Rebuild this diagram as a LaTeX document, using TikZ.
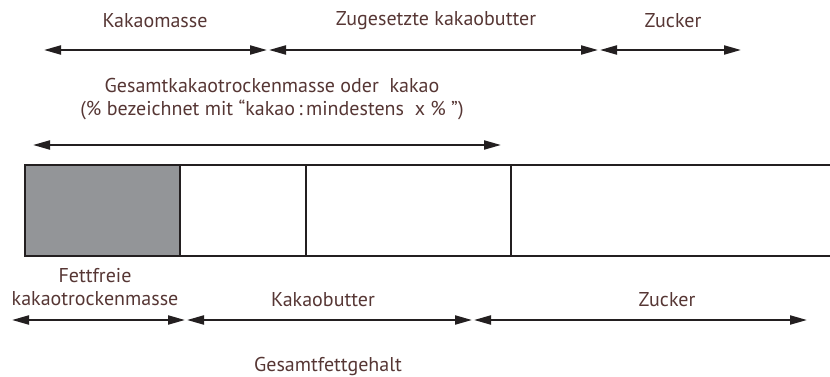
\documentclass[tikz,border=0pt]{standalone}
\usepackage{fontspec}
\setmainfont{PT Sans}
\usetikzlibrary{arrows.meta}
\definecolor{txt}{HTML}{563634}
\definecolor{fillgray}{HTML}{939598}
\definecolor{ln}{HTML}{231F20}
\begin{document}
\begin{tikzpicture}[x=1pt,y=-1pt,
  lbl/.style={text=txt,font=\fontsize{20}{23}\selectfont,inner sep=0pt,align=center},
  dim/.style={draw=ln,line width=2pt,{Triangle[length=17pt,width=9pt]}-{Triangle[length=17pt,width=9pt]},shorten <=0pt,shorten >=0pt},
  seg/.style={draw=ln,line width=2pt}]
\useasboundingbox (0,0) rectangle (830,377);
% bar
\fill[fillgray] (25,165) rectangle (180,256);
\draw[seg] (830,165) -- (25,165) -- (25,256) -- (830,256);
\draw[seg] (180,165) -- (180,256);
\draw[seg] (306,165) -- (306,256);
\draw[seg] (511,165) -- (511,256);
% coordinates
\coordinate (t0) at (44,50);
\coordinate (t1) at (267,50);
\coordinate (t1b) at (269,50);
\coordinate (t2) at (598,50);
\coordinate (t2b) at (600,50);
\coordinate (t3) at (741,50);
\coordinate (m0) at (33,145);
\coordinate (m1) at (501,145);
\coordinate (b0) at (12,320);
\coordinate (b1) at (185,320);
\coordinate (b1b) at (187,320);
\coordinate (b2) at (472,320);
\coordinate (b2b) at (474,320);
\coordinate (b3) at (807,320);
\draw[dim] (t0) -- (t1);
\draw[dim] (t1b) -- (t2);
\draw[dim] (t2b) -- (t3);
\draw[dim] (m0) -- (m1);
\draw[dim] (b0) -- (b1);
\draw[dim] (b1b) -- (b2);
\draw[dim] (b2b) -- (b3);
% labels
\node[lbl] (l1) at (155,21) {Kakaomasse};
\node[lbl] (l2) at (436,21) {Zugesetzte kakaobutter};
\node[lbl] (l3) at (673,21) {Zucker};
\node[lbl] (l4) at (272,99) {Gesamtkakaotrockenmasse oder\ \ kakao\\(\% bezeichnet mit “kakao\,:\,mindestens\ \ x \% ”)};
\node[lbl] (l5) at (95,287) {Fettfreie\\kakaotrockenmasse};
\node[lbl] (l6) at (323,300) {Kakaobutter};
\node[lbl] (l7) at (667,300) {Zucker};
\node[lbl] (l8) at (328,366) {Gesamtfettgehalt};
\end{tikzpicture}
\end{document}
